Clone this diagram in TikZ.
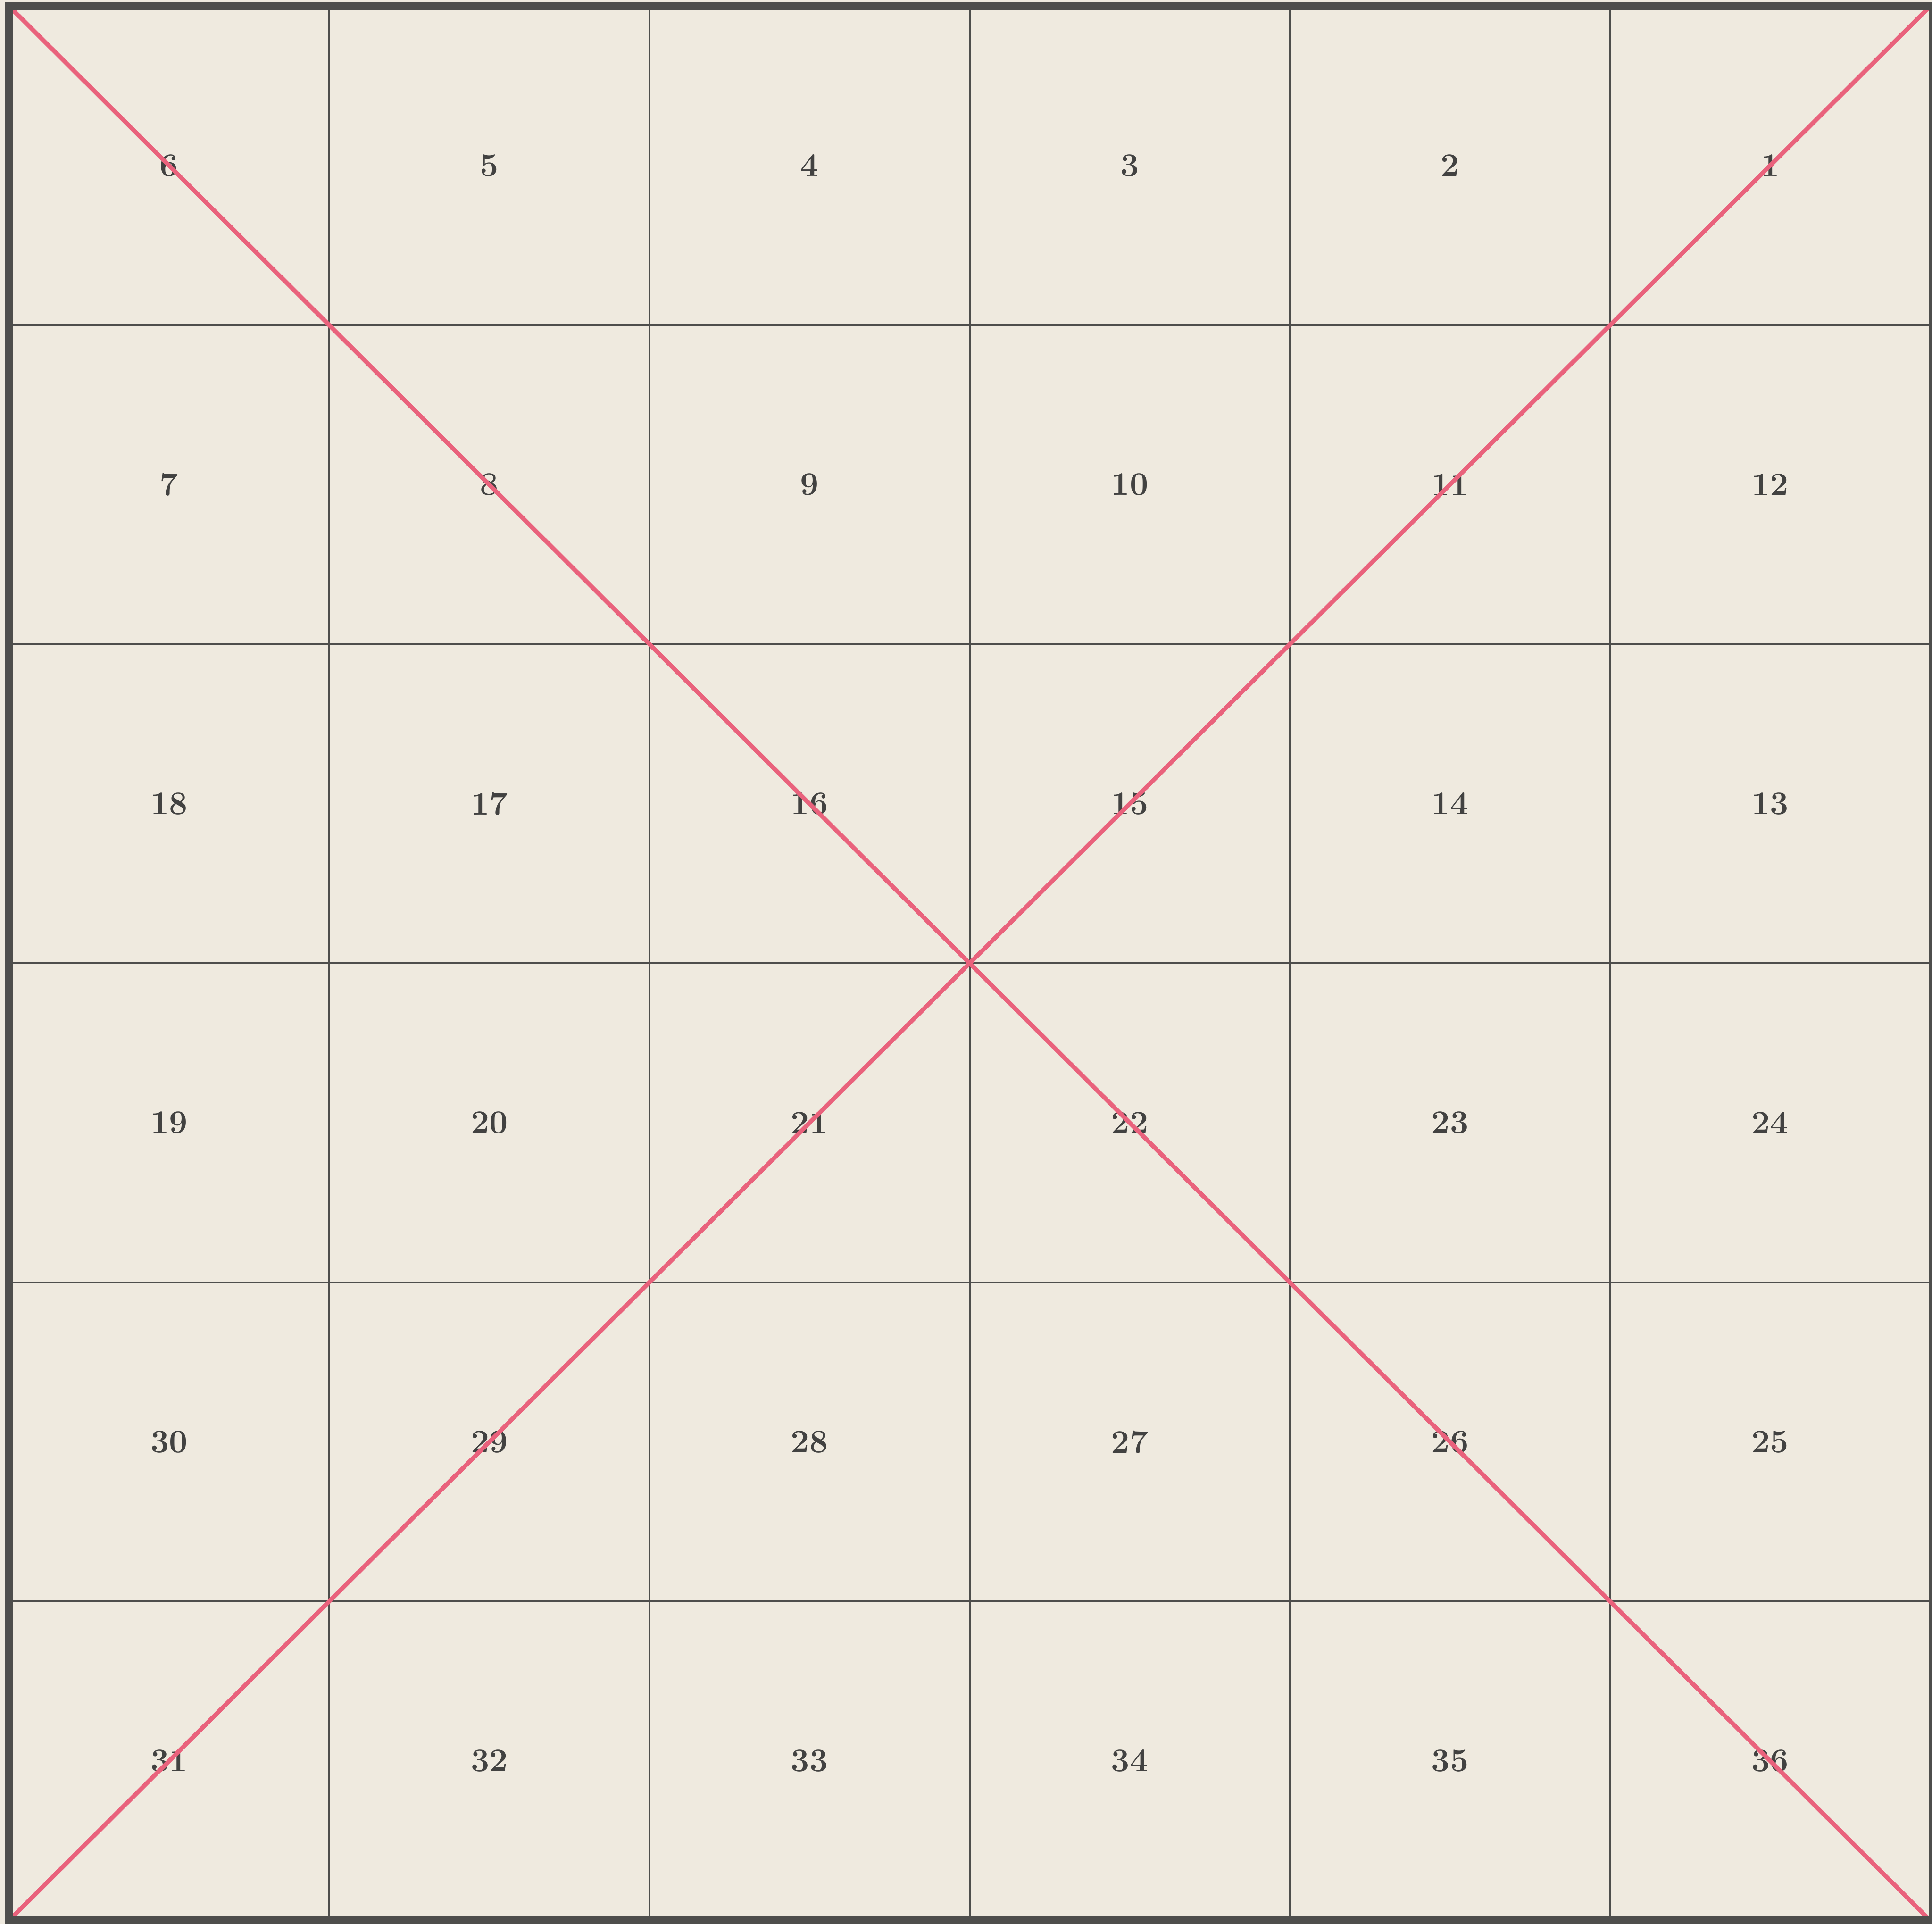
\documentclass[tikz,border=0pt]{standalone}
\usepackage{tikz}
\usetikzlibrary{calc,positioning}

\definecolor{paper}{RGB}{239,234,223}
\definecolor{ink}{RGB}{78,78,76}
\definecolor{pinkred}{RGB}{233,98,124}

\tikzset{
  frame/.style={draw=ink,line width=2.6pt,line cap=rect},
  gridline/.style={draw=ink,line width=0.65pt},
  diag/.style={draw=pinkred,line width=1.45pt},
  secnum/.style={text=ink!85!black,font=\fontsize{11}{13}\selectfont\bfseries,inner sep=0pt}
}

\begin{document}
\begin{tikzpicture}[x=3.76cm,y=3.7465cm]
% paper
\fill[paper] (-0.02793,-0.010677) rectangle (6.00532,6.01895);
\useasboundingbox (-0.02793,-0.010677) rectangle (6.00532,6.01895);
\coordinate (SW) at (0,0);
\coordinate (SE) at (6,0);
\coordinate (NE) at (6,6);
\coordinate (NW) at (0,6);
% sections
\foreach \i in {1,...,5}{
  \draw[gridline] (\i,0)--(\i,6);
  \draw[gridline] (0,\i)--(6,\i);
}
% section numbers, running back and forth
\foreach \r in {0,...,5}{
  \foreach \c in {0,...,5}{
    \pgfmathtruncatemacro{\n}{isodd(\r) ? 6*\r+\c+1 : 6*\r+6-\c}
    \node[secnum] (s\n) at (\c+0.5,5.5-\r) {\n};
  }
}
% diagonals
\draw[diag] (NW)--(SE);
\draw[diag] (SW)--(NE);
% outer line, thin on the right edge
\draw[ink,line width=1pt] (SE)--(NE);
\draw[frame] (NE)--(NW)--(SW)--(SE);
\end{tikzpicture}
\end{document}
